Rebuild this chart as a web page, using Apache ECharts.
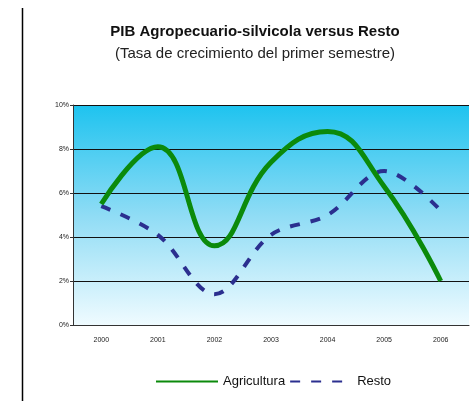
<!DOCTYPE html>
<html>
<head>
<meta charset="utf-8">
<script src="https://cdn.jsdelivr.net/npm/echarts@6/dist/echarts.min.js"></script>
<style>
  html, body { margin: 0; padding: 0; background: #fff; }
  #chart { width: 474px; height: 401px; }
</style>
</head>
<body>
<div id="chart"></div>
<script>
const years = ["2000", "2001", "2002", "2003", "2004", "2005", "2006"];
const agricultura = [5.5, 8.1, 3.6, 7.4, 8.8, 6.3, 2.0];
const resto = [5.4, 4.1, 1.4, 4.1, 5.0, 7.0, 5.2];

const chart = echarts.init(document.getElementById("chart"));
const option = {
  animation: false,
  title: {
    text: "PIB Agropecuario-silvicola versus Resto",
    subtext: "(Tasa de crecimiento del primer semestre)",
    left: 250,
    textAlign: "center",
    top: 19,
    itemGap: 7,
    textStyle: {
      fontFamily: "Liberation Sans",
      fontSize: 15,
      fontWeight: "bold",
      color: "#111",
    },
    subtextStyle: {
      fontFamily: "Liberation Sans",
      fontSize: 15,
      color: "#222",
    },
  },
  legend: {
    bottom: 8,
    left: 150,
    itemWidth: 62,
    itemHeight: 6,
    itemGap: 4,
    itemStyle: { opacity: 0 },
    textStyle: { fontFamily: "Liberation Sans", fontSize: 13, color: "#111" },
    data: ["Agricultura", "Resto"],
  },
  grid: {
    left: 73,
    right: 5,
    top: 105,
    bottom: 76,
    show: true,
    borderWidth: 0,
    backgroundColor: new echarts.graphic.LinearGradient(0, 0, 0, 1, [
      { offset: 0, color: "#1ec3ef" },
      { offset: 0.5, color: "#8fdcf5" },
      { offset: 1, color: "#effbff" },
    ]),
  },
  graphic: [
    {
      type: "line",
      shape: { x1: 22.5, y1: 8, x2: 22.5, y2: 401 },
      style: { stroke: "#000", lineWidth: 1.5 },
    },
  ],
  xAxis: {
    type: "category",
    data: years,
    boundaryGap: true,
    axisLine: { lineStyle: { color: "#333" } },
    axisTick: { length: 3, lineStyle: { color: "#333" } },
    axisLabel: { fontFamily: "Liberation Sans", fontSize: 7, color: "#222", margin: 12 },
  },
  yAxis: {
    type: "value",
    min: 0,
    max: 10,
    interval: 2,
    axisLine: { show: true, lineStyle: { color: "#333" } },
    axisTick: { show: true, length: 3, lineStyle: { color: "#333" } },
    axisLabel: {
      fontFamily: "Liberation Sans",
      fontSize: 7,
      color: "#222",
      margin: 4,
      formatter: "{value}%",
    },
    splitLine: { lineStyle: { color: "#111", width: 1 } },
  },
  series: [
    {
      name: "Agricultura",
      type: "line",
      data: agricultura,
      smooth: 0.45,
      symbol: "none",
      lineStyle: { color: "#0b8a0b", width: 5 },
      itemStyle: { color: "#0b8a0b" },
      z: 3,
    },
    {
      name: "Resto",
      type: "line",
      data: resto,
      smooth: 0.35,
      symbol: "none",
      lineStyle: { color: "#2b2f8f", width: 4, type: [10, 11] },
      itemStyle: { color: "#2b2f8f" },
      z: 2,
    },
  ],
};
chart.setOption(option);
</script>
</body>
</html>
